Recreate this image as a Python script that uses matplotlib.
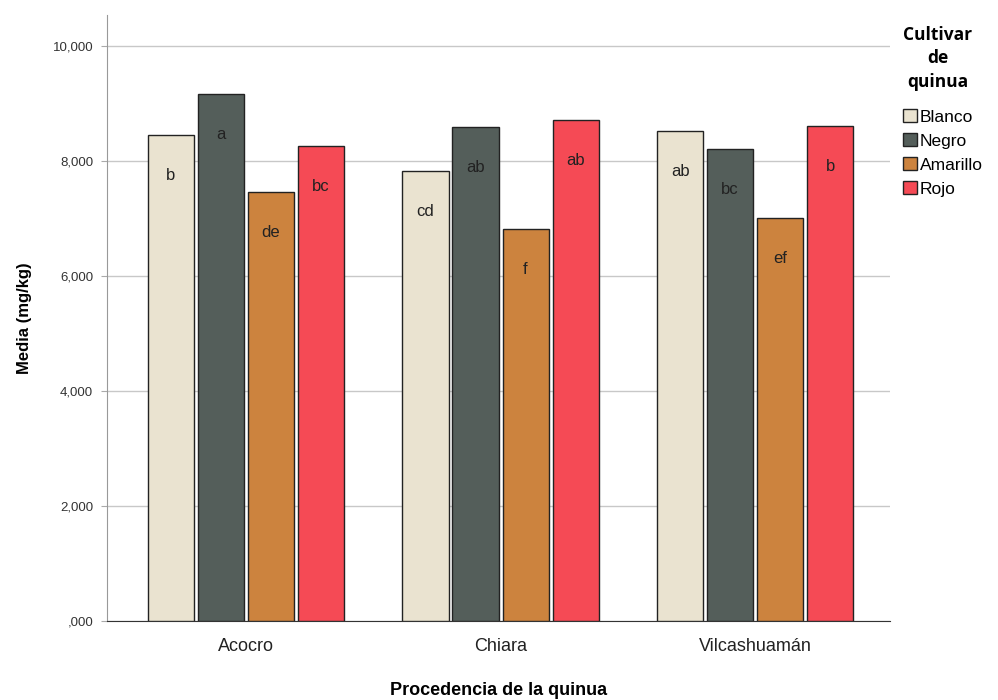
import matplotlib.pyplot as plt
import numpy as np

plt.rcParams['font.family'] = ['Liberation Sans', 'DejaVu Sans']

procedencias = ['Acocro', 'Chiara', 'Vilcashuamán']
cultivares = ['Blanco', 'Negro', 'Amarillo', 'Rojo']
colores = ['#EAE3D0', '#545E5A', '#CC833E', '#F54A55']

# media por cultivar (filas) y procedencia (columnas)
blanco = [8.45, 7.83, 8.52]
negro = [9.17, 8.59, 8.21]
amarillo = [7.46, 6.82, 7.01]
rojo = [8.26, 8.71, 8.61]
medias = [blanco, negro, amarillo, rojo]

letras = [['b', 'cd', 'ab'],
          ['a', 'ab', 'bc'],
          ['de', 'f', 'ef'],
          ['bc', 'ab', 'b']]

fig = plt.figure(figsize=(9.98, 7), dpi=100)
ax = fig.add_axes([0.1072, 0.1129, 0.7846, 0.8657])

x = np.arange(len(procedencias))
w = 0.181
paso = 0.1965
for i, (nom, vals, col) in enumerate(zip(cultivares, medias, colores)):
    pos = x + (i - 1.5) * paso
    ax.bar(pos, vals, width=w, color=col, edgecolor='#222222', linewidth=1.0,
           label=nom, zorder=3)
    for px, v, l in zip(pos, vals, letras[i]):
        ax.annotate(l, (px, v), xytext=(0, -29), textcoords='offset points',
                    ha='center', va='center', fontsize=12, color='#222222',
                    zorder=4)

ax.set_xlim(-0.546, 2.53)
ax.set_ylim(0, 10.54)
ticks = [0, 2, 4, 6, 8, 10]
ax.set_yticks(ticks)
ax.set_yticklabels([f'{t:.3f}'.replace('.', ',').lstrip('0') if t < 1 else f'{t:.3f}'.replace('.', ',')
                    for t in ticks], fontsize=9.5, color='#333333')
ax.set_xticks(x)
ax.set_xticklabels(procedencias, fontsize=13, color='#222222')
ax.tick_params(axis='x', length=0, pad=12)
ax.tick_params(axis='y', length=4, color='#aaaaaa', pad=6)
ax.grid(axis='y', color='#c8c8c8', linewidth=1.0, zorder=0)

for s in ['top', 'right']:
    ax.spines[s].set_visible(False)
ax.spines['left'].set_color('#999999')
ax.spines['bottom'].set_color('#333333')

ax.set_ylabel('Media (mg/kg)', fontsize=12, fontweight='bold', labelpad=15)
ax.set_xlabel('Procedencia de la quinua', fontsize=13, fontweight='bold', labelpad=20)

leg = fig.legend(loc='upper left', bbox_to_anchor=(0.905, 0.963), frameon=False,
                 title='Cultivar\nde\nquinua', fontsize=12.5, handlelength=0.8,
                 handleheight=0.8, handletextpad=0.15, labelspacing=0.48,
                 borderaxespad=0, borderpad=0)
t = leg.get_title()
t.set_fontweight('bold')
t.set_fontsize(12.5)
t.set_family(['Open Sans', 'DejaVu Sans'])
t.set_multialignment('center')
t.set_linespacing(1.4)
leg._legend_box.align = 'left'
leg._legend_box.sep = 13

fig.savefig('out.png', dpi=100)
